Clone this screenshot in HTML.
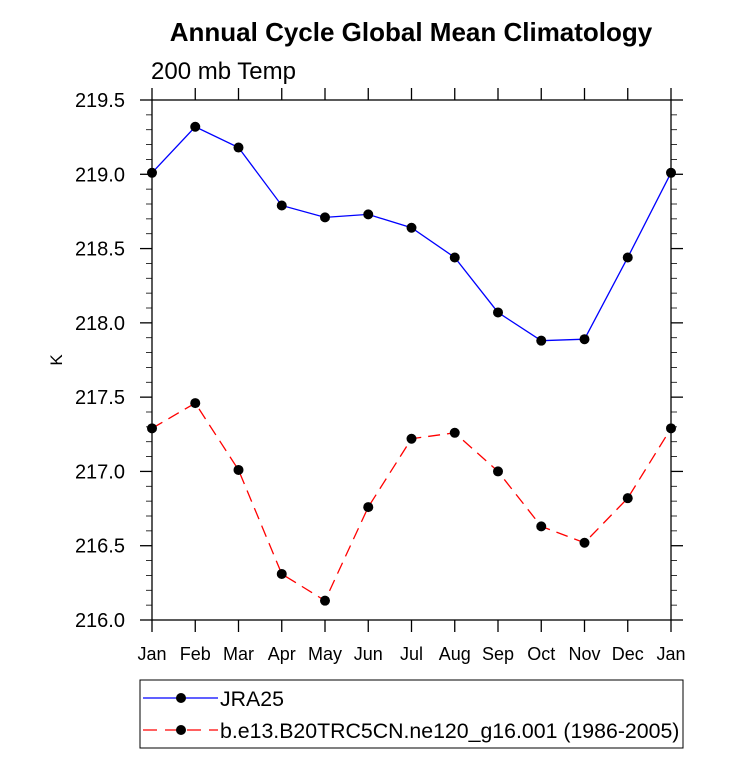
<!DOCTYPE html>
<html><head><meta charset="utf-8"><style>
body{margin:0;background:#fff}
text{font-family:"Liberation Sans",Arial,sans-serif}
</style></head><body>
<svg id="c" width="733" height="754" xmlns="http://www.w3.org/2000/svg">
<text x="411" y="41" text-anchor="middle" font-size="26" font-weight="bold">Annual Cycle Global Mean Climatology</text>
<text x="151" y="79" font-size="24">200 mb Temp</text>
<text transform="translate(62,360) rotate(-90)" text-anchor="middle" font-size="17">K</text>
<g id="axes"></g>
<g id="series"></g>
<rect x="140" y="680" width="543" height="68" fill="none" stroke="#000" stroke-width="1"/>
<g>
<line x1="143" y1="698" x2="218" y2="698" stroke="#00f" stroke-width="1.3"/>
<circle cx="181" cy="698" r="5" fill="#000"/>
<text x="220" y="706" font-size="21.3">JRA25</text>
</g>
<g>
<line x1="143" y1="730" x2="218" y2="730" stroke="#f00" stroke-width="1.3" stroke-dasharray="14,8"/>
<circle cx="181" cy="730" r="5" fill="#000"/>
<text x="220" y="738" font-size="21.3">b.e13.B20TRC5CN.ne120_g16.001 (1986-2005)</text>
</g>
</svg>
<script>
const months = ["Jan","Feb","Mar","Apr","May","Jun","Jul","Aug","Sep","Oct","Nov","Dec","Jan"];
const jra25 = [219.01,219.32,219.18,218.79,218.71,218.73,218.64,218.44,218.07,217.88,217.89,218.44,219.01];
const model = [217.29,217.46,217.01,216.31,216.13,216.76,217.22,217.26,217.00,216.63,216.52,216.82,217.29];
const yTicks = [216.0,216.5,217.0,217.5,218.0,218.5,219.0,219.5];
const yTickLabels = ["216.0","216.5","217.0","217.5","218.0","218.5","219.0","219.5"];

const X0=152,X1=671,Y0=620,Y1=100,YMIN=216,YMAX=219.5;
const xs=i=>X0+(X1-X0)*i/(months.length-1);
const ys=v=>Y0-(v-YMIN)/(YMAX-YMIN)*(Y0-Y1);
const NS="http://www.w3.org/2000/svg";
function mk(tag,attrs,parent){const e=document.createElementNS(NS,tag);for(const k in attrs)e.setAttribute(k,attrs[k]);parent.appendChild(e);return e;}
const ax=document.getElementById('axes'), sg=document.getElementById('series');
const frame=mk('rect',{x:X0,y:Y1,width:X1-X0,height:Y0-Y1,fill:'none',stroke:'#000','stroke-width':1.3},ax);


months.forEach((m,i)=>{
  const x=xs(i);
  const t=mk('line',{x1:x,y1:Y0,x2:x,y2:Y0+12,stroke:'#000','stroke-width':1.3},ax);
  
  
  const t2=mk('line',{x1:x,y1:Y1,x2:x,y2:Y1-12,stroke:'#000','stroke-width':1.3},ax);
  
  
  const l=mk('text',{x:x,y:660,'text-anchor':'middle','font-size':18},ax);
  l.textContent=m;
  
  
});
for(let v=YMIN;v<=YMAX+1e-9;v+=0.1){
  const y=ys(v);
  const major=Math.abs(v*2-Math.round(v*2))<1e-6;
  const len=major?12:6;
  const a=mk('line',{x1:X0-len,y1:y,x2:X0,y2:y,stroke:'#000','stroke-width':major?1.3:0.8},ax);
  
  
  const b=mk('line',{x1:X1,y1:y,x2:X1+len,y2:y,stroke:'#000','stroke-width':major?1.3:0.8},ax);
  
  
}
yTicks.forEach((v,i)=>{
  const l=mk('text',{x:125,y:ys(v)+7,'text-anchor':'end','font-size':20},ax);
  l.textContent=yTickLabels[i];
  
  
});
function drawSeries(vals,color,dash,name){
  const p=mk('polyline',{points:vals.map((v,i)=>xs(i)+','+ys(v)).join(' '),fill:'none',stroke:color,'stroke-width':1.3,'stroke-dasharray':dash},sg);
  
  
  vals.forEach((v,i)=>{
    const c=mk('circle',{cx:xs(i),cy:ys(v),r:5,fill:'#000'},sg);
    
    
  });
}
drawSeries(jra25,'#00f','none','jra25');
drawSeries(model,'#f00','12,7','model');
</script>
</body></html>
